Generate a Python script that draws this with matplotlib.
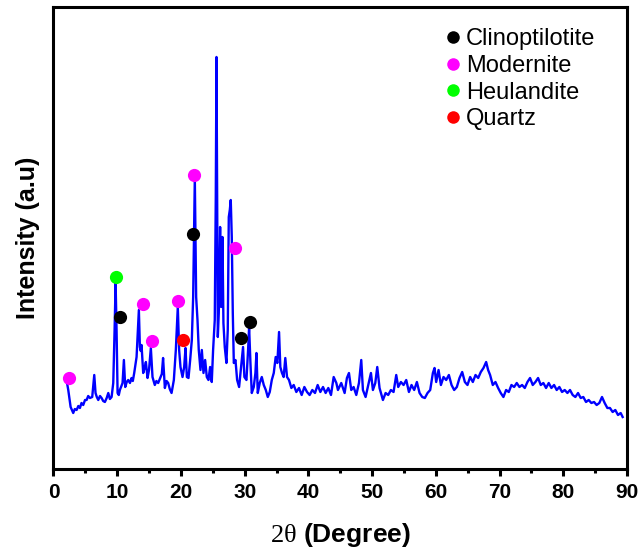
import matplotlib
matplotlib.use("Agg")
import matplotlib.pyplot as plt
from matplotlib.ticker import MultipleLocator

plt.rcParams["font.family"] = ["Liberation Sans", "DejaVu Sans"]
plt.rcParams["mathtext.fontset"] = "custom"
plt.rcParams["mathtext.rm"] = "Liberation Serif"

# ── XRD trace (arbitrary intensity units) ────────────────────────────────────
two_theta = [
    1.96, 2.32, 2.69, 3.10, 3.35, 3.63, 3.90, 4.15, 4.40, 4.67, 4.95, 5.20,
    5.45, 5.72, 6.08, 6.40, 6.60, 6.80, 7.03, 7.30, 7.55, 7.80, 8.07, 8.35,
    8.60, 8.85, 9.12, 9.38, 9.59, 9.75, 9.90, 10.06, 10.25, 10.42, 10.84, 11.05,
    11.26, 11.50, 11.73, 12.00, 12.25, 12.45, 12.67, 13.04, 13.25, 13.40, 13.56, 13.70,
    13.82, 14.08, 14.30, 14.50, 14.76, 14.99, 15.28, 15.54, 15.90, 16.15, 16.43, 16.80,
    17.00, 17.20, 17.48, 17.75, 18.00, 18.25, 18.53, 18.89, 19.20, 19.51, 19.72, 19.93,
    20.25, 20.51, 20.72, 20.93, 21.19, 21.45, 21.71, 21.92, 22.18, 22.39, 22.60, 22.80,
    23.07, 23.28, 23.54, 23.80, 24.06, 24.32, 24.58, 24.84, 25.05, 25.31, 25.47, 25.58,
    25.68, 25.79, 25.94, 26.15, 26.31, 26.52, 26.67, 26.88, 27.14, 27.35, 27.51, 27.67,
    27.82, 27.98, 28.14, 28.30, 28.56, 28.82, 29.13, 29.44, 29.75, 29.96, 30.28, 30.54,
    30.70, 30.91, 31.12, 31.43, 31.69, 31.85, 32.06, 32.37, 32.69, 33.00, 33.32, 33.63,
    33.94, 34.26, 34.57, 34.87, 35.13, 35.40, 35.60, 35.86, 36.12, 36.38, 36.65, 36.96,
    37.33, 37.70, 38.11, 38.53, 38.95, 39.37, 39.79, 40.20, 40.62, 41.04, 41.46, 41.88,
    42.30, 42.71, 43.13, 43.55, 43.97, 44.39, 44.64, 45.16, 45.69, 46.05, 46.37, 46.73,
    47.10, 47.52, 47.94, 48.30, 48.56, 48.98, 49.40, 49.82, 50.13, 50.50, 50.81, 51.17,
    51.70, 52.12, 52.53, 52.95, 53.37, 53.79, 54.10, 54.52, 54.94, 55.36, 55.78, 56.19,
    56.61, 57.03, 57.45, 57.87, 58.28, 58.70, 59.12, 59.54, 59.80, 60.06, 60.43, 60.80,
    61.21, 61.63, 62.05, 62.47, 62.88, 63.30, 63.72, 64.14, 64.56, 64.97, 65.39, 65.81,
    66.23, 66.65, 67.06, 67.48, 67.90, 68.21, 68.52, 68.94, 69.36, 69.78, 70.19, 70.61,
    71.03, 71.45, 71.87, 72.29, 72.70, 73.12, 73.54, 73.96, 74.38, 74.79, 75.21, 75.63,
    76.05, 76.47, 76.88, 77.30, 77.72, 78.14, 78.56, 78.97, 79.39, 79.81, 80.23, 80.65,
    81.06, 81.48, 81.90, 82.32, 82.74, 83.15, 83.57, 83.99, 84.41, 84.83, 85.24, 85.66,
    86.08, 86.50, 86.92, 87.33, 87.75, 88.17, 88.59, 89.01, 89.32,
]
intensity = [
    92, 79, 62, 56, 60, 59, 63, 61, 66, 64, 69, 69,
    73, 71, 72, 94, 76, 72, 69, 73, 71, 68, 67, 71,
    76, 70, 72, 86, 139, 186, 139, 76, 74, 79, 86, 109,
    82, 87, 89, 86, 91, 88, 96, 112, 139, 159, 122, 118,
    124, 96, 101, 107, 91, 99, 121, 92, 84, 88, 86, 92,
    95, 111, 81, 88, 86, 80, 76, 89, 119, 162, 119, 102,
    92, 102, 121, 92, 91, 109, 129, 172, 291, 172, 149, 119,
    99, 119, 96, 109, 92, 89, 102, 87, 119, 149, 272, 412,
    272, 132, 156, 242, 162, 232, 146, 122, 106, 139, 252, 259,
    269, 232, 156, 106, 109, 89, 82, 102, 122, 92, 89, 119,
    142, 106, 76, 82, 96, 116, 76, 86, 92, 84, 79, 72,
    77, 89, 96, 112, 106, 137, 102, 96, 92, 111, 92, 89,
    81, 84, 77, 81, 74, 82, 77, 74, 79, 76, 84, 77,
    82, 76, 81, 74, 92, 86, 79, 86, 76, 91, 96, 79,
    82, 74, 86, 109, 79, 72, 84, 96, 79, 86, 102, 81,
    69, 76, 74, 79, 77, 94, 82, 87, 84, 89, 77, 84,
    79, 87, 76, 72, 71, 76, 79, 96, 101, 87, 99, 84,
    92, 89, 94, 84, 79, 82, 91, 97, 87, 84, 92, 87,
    94, 91, 97, 101, 107, 99, 94, 84, 87, 81, 76, 72,
    79, 77, 84, 82, 86, 82, 84, 81, 87, 91, 84, 87,
    91, 84, 86, 81, 86, 81, 84, 79, 82, 77, 79, 76,
    79, 74, 72, 76, 71, 72, 67, 69, 66, 67, 64, 66,
    72, 66, 61, 61, 57, 59, 54, 56, 52,
]

# ── Phase markers (2θ, height where the dot sits) ────────────────────────────
phases = ["Clinoptilotite", "Modernite", "Heulandite", "Quartz"]
phase_colors = ["black", "#ff00ff", "#00ff00", "#ff0000"]
phase_x = [
    [10.4, 21.85, 29.5, 30.8],
    [2.4, 14.1, 15.5, 19.5, 22.07, 28.45],
    [9.85],
    [20.4],
]
phase_y = [
    [152, 235, 131, 147],
    [91, 165, 128, 168, 294, 221],
    [192],
    [129],
]

fig = plt.figure(figsize=(6.42, 5.59), dpi=100)
ax = fig.add_axes([0.0833, 0.161, 0.8933, 0.8265])

ax.plot(two_theta, intensity, color="#0000ff", lw=1.7, zorder=2)

for name, col, xs, ys in zip(phases, phase_colors, phase_x, phase_y):
    ax.plot(xs, ys, "o", color=col, ms=9.5, mec="none", label=name, zorder=3)

ax.set_xlim(0, 90)
ax.set_ylim(0, 462)
ax.xaxis.set_major_locator(MultipleLocator(10))
ax.xaxis.set_minor_locator(MultipleLocator(5))
ax.set_yticks([])

for sp in ax.spines.values():
    sp.set_linewidth(2.2)
ax.tick_params(axis="x", which="major", direction="out", length=5, width=2.2,
               labelsize=15, pad=5)
ax.tick_params(axis="x", which="minor", direction="out", length=3, width=2.2)
for lbl in ax.get_xticklabels():
    lbl.set_fontweight("bold")

ax.set_xlabel(r"$\mathrm{2θ}$ (Degree)", fontsize=19, fontweight="bold", labelpad=14)
ax.set_ylabel("Intensity (a.u)", fontsize=18, fontweight="bold", labelpad=10)

ax.legend(loc="upper left", bbox_to_anchor=(0.68, 0.954), frameon=False,
          fontsize=17, handlelength=0.8, handletextpad=0.15, labelspacing=0.2,
          borderpad=0, borderaxespad=0, markerscale=0.95)

fig.savefig("out.png", dpi=100)
